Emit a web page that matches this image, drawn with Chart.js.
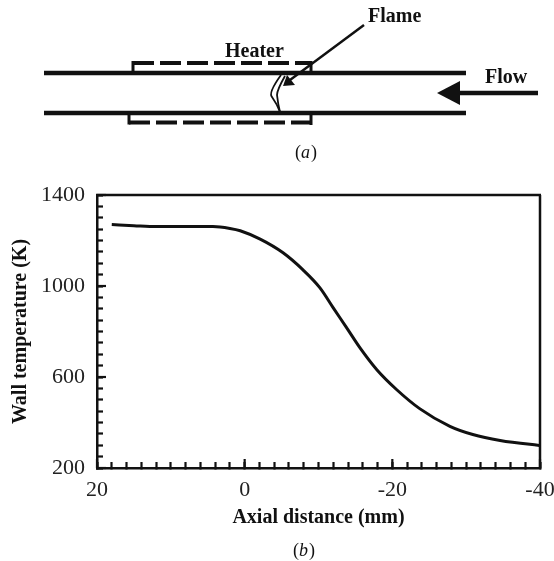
<!DOCTYPE html>
<html>
<head>
<meta charset="utf-8">
<title>Wall temperature</title>
<script src="https://cdn.jsdelivr.net/npm/chart.js@4"></script>
<style>
body { margin: 0; background: #fff; }
canvas { display: block; }
</style>
</head>
<body>
<canvas id="chart" width="554" height="561"></canvas>
<script>
var axialDistance = [18, 15, 11.9, 8, 4.3, 2, 0.6, -2.1, -5.2, -7.9, -10.2, -12, -13.8, -15.6, -17.9, -20.6, -23.7, -27.8, -30.9, -34.6, -39.7, -40];
var wallTemperature = [1270, 1265, 1261, 1261, 1261, 1253, 1243, 1206, 1146, 1071, 992, 904, 817, 729, 632, 544, 461, 383, 347, 321, 300, 299];
var xLabels = [20, 0, -20, -40];
var yLabels = [200, 600, 1000, 1400];

var serif = '"Liberation Serif", serif';

function line(ctx, x1, y1, x2, y2, width, dash) {
    ctx.beginPath();
    ctx.lineWidth = width;
    ctx.setLineDash(dash || []);
    ctx.moveTo(x1, y1);
    ctx.lineTo(x2, y2);
    ctx.stroke();
    ctx.setLineDash([]);
}

function partLabel(ctx, letter, x, y) {
    // "(a)" with only the letter in italics
    ctx.textAlign = 'left';
    ctx.textBaseline = 'middle';
    ctx.font = '18px ' + serif;
    ctx.fillText('(', x - 11, y);
    ctx.fillText(')', x + 5, y);
    ctx.font = 'italic 18px ' + serif;
    ctx.fillText(letter, x - 5, y);
}

// frame, longer major ticks
var framePlugin = {
    id: 'frame',
    afterDatasetsDraw: function(chart) {
        var ctx = chart.ctx;
        var area = chart.chartArea;
        ctx.save();
        ctx.strokeStyle = '#111';
        ctx.lineCap = 'butt';
        line(ctx, area.left - 1, area.top, area.right + 1, area.top, 2.5);
        line(ctx, area.right, area.top, area.right, area.bottom, 2.5);
        xLabels.forEach(function(v) {
            var px = chart.scales.x.getPixelForValue(v);
            line(ctx, px, area.bottom, px, area.bottom - 9, 2.2);
        });
        yLabels.forEach(function(v) {
            var py = chart.scales.y.getPixelForValue(v);
            line(ctx, area.left, py, area.left + 9, py, 2.2);
        });
        ctx.restore();
    }
};

// panel (a), the burner sketch above the plot
var sketchPlugin = {
    id: 'sketch',
    afterDraw: function(chart) {
        var ctx = chart.ctx;
        ctx.save();
        ctx.strokeStyle = '#111';
        ctx.fillStyle = '#111';

        line(ctx, 44, 73, 466, 73, 4.5);
        line(ctx, 44, 113, 466, 113, 4.5);

        line(ctx, 133, 63, 311, 63, 4, [21, 6]);
        line(ctx, 133, 61, 133, 73, 3);
        line(ctx, 311, 61, 311, 73, 3);
        line(ctx, 129, 122.5, 311, 122.5, 4, [21, 6]);
        line(ctx, 129, 113, 129, 124.5, 3);
        line(ctx, 311, 113, 311, 125, 3);

        // flame
        ctx.lineWidth = 1.8;
        ctx.beginPath();
        ctx.moveTo(281, 75);
        ctx.quadraticCurveTo(268, 93, 272, 97);
        ctx.quadraticCurveTo(277, 104, 280, 112);
        ctx.stroke();
        ctx.beginPath();
        ctx.moveTo(285, 76);
        ctx.quadraticCurveTo(277, 90, 277, 95);
        ctx.quadraticCurveTo(278, 104, 280, 112);
        ctx.stroke();

        // flame pointer
        line(ctx, 364, 25, 290, 80, 2.5);
        ctx.beginPath();
        ctx.moveTo(283, 86);
        ctx.lineTo(287, 75);
        ctx.lineTo(295, 85);
        ctx.closePath();
        ctx.fill();

        // flow arrow
        line(ctx, 455, 93, 538, 93, 4.5);
        ctx.beginPath();
        ctx.moveTo(437, 93);
        ctx.lineTo(460, 81);
        ctx.lineTo(460, 105);
        ctx.closePath();
        ctx.fill();

        ctx.textBaseline = 'middle';
        ctx.textAlign = 'left';
        ctx.font = 'bold 20px ' + serif;
        ctx.fillText('Flame', 368, 17);
        ctx.fillText('Heater', 225, 52);
        ctx.fillText('Flow', 485, 78);

        partLabel(ctx, 'a', 306, 153);
        partLabel(ctx, 'b', 304, 551);
        ctx.restore();
    }
};

var points = axialDistance.map(function(x, i) {
    return { x: x, y: wallTemperature[i] };
});

new Chart(document.getElementById('chart').getContext('2d'), {
    type: 'line',
    data: {
        datasets: [{
            data: points,
            borderColor: '#111',
            borderWidth: 3,
            pointRadius: 0,
            cubicInterpolationMode: 'monotone',
            fill: false
        }]
    },
    options: {
        responsive: false,
        animation: false,
        events: [],
        layout: { padding: { top: 195, right: 14, left: 0, bottom: 0 } },
        plugins: { legend: { display: false }, tooltip: { enabled: false } },
        scales: {
            x: {
                type: 'linear',
                reverse: true,
                min: -40,
                max: 20,
                afterFit: function(scale) { scale.height = 93; },
                afterBuildTicks: function(scale) {
                    var ticks = [];
                    for (var v = -40; v <= 20; v += 2) { ticks.push({ value: v }); }
                    scale.ticks = ticks;
                },
                grid: { drawOnChartArea: false, tickLength: -6, tickWidth: 2.2, tickColor: '#111' },
                border: { color: '#111', width: 2.5 },
                ticks: {
                    autoSkip: false,
                    maxRotation: 0,
                    padding: 15,
                    color: '#222',
                    font: { family: serif, size: 22 },
                    callback: function(v) { return xLabels.indexOf(v) >= 0 ? String(v) : ''; }
                },
                title: {
                    display: true,
                    text: 'Axial distance (mm)',
                    color: '#111',
                    font: { family: serif, size: 20, weight: 'bold' },
                    padding: { top: 0, bottom: 31 }
                }
            },
            y: {
                min: 200,
                max: 1400,
                afterFit: function(scale) { scale.width = 97; },
                afterBuildTicks: function(scale) {
                    var ticks = [];
                    for (var v = 200; v <= 1400; v += 50) { ticks.push({ value: v }); }
                    scale.ticks = ticks;
                },
                grid: { drawOnChartArea: false, tickLength: -6, tickWidth: 2.2, tickColor: '#111' },
                border: { color: '#111', width: 2.5 },
                ticks: {
                    autoSkip: false,
                    padding: 18,
                    color: '#222',
                    font: { family: serif, size: 22 },
                    callback: function(v) { return yLabels.indexOf(v) >= 0 ? String(v) : ''; }
                },
                title: {
                    display: true,
                    text: 'Wall temperature (K)',
                    color: '#111',
                    font: { family: serif, size: 20, weight: 'bold' },
                    padding: { top: 9, bottom: 0 }
                }
            }
        }
    },
    plugins: [framePlugin, sketchPlugin]
});
</script>
</body>
</html>
